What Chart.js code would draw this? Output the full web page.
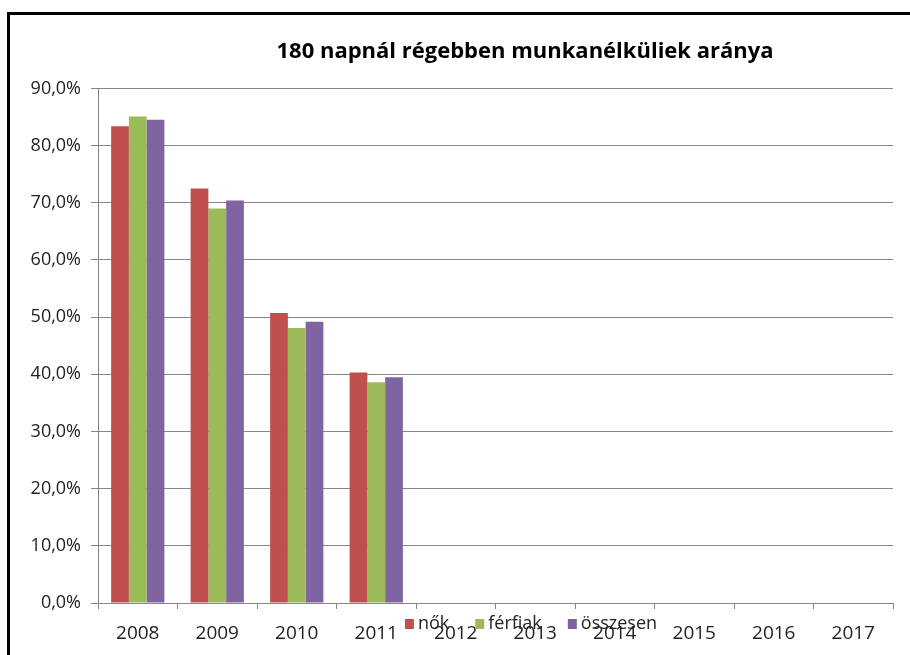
<!DOCTYPE html>
<html>
<head>
<meta charset="utf-8">
<script src="https://cdn.jsdelivr.net/npm/chart.js@4.4.0/dist/chart.umd.min.js"></script>
<style>
  html, body { margin: 0; padding: 0; background: #fff; overflow: hidden; width: 910px; height: 655px; }
  #frame { position: absolute; left: 7px; top: 12px; width: 920px; height: 660px; border-left: 3px solid #000; border-top: 3px solid #000; }
  #chart { position: absolute; left: 0; top: 0; }
</style>
</head>
<body>
<div id="frame"></div>
<canvas id="chart" width="1050" height="655"></canvas>
<script>
// adatok
const years = ['2008', '2009', '2010', '2011', '2012', '2013', '2014', '2015', '2016', '2017'];
const nok = [83.4, 72.5, 50.7, 40.3, null, null, null, null, null, null];
const ferfiak = [85.1, 69.0, 48.1, 38.6, null, null, null, null, null, null];
const osszesen = [84.5, 70.4, 49.2, 39.5, null, null, null, null, null, null];
const seriesNames = ['nők', 'férfiak', 'összesen'];
const seriesColors = ['#C0504D', '#9BBB59', '#8064A2'];
const yMin = 0;
const yMax = 90;
const yStep = 10;

const FONT = "'Open Sans', sans-serif";

// legenda a tengelyfeliratok fölé rajzolva (mint az eredetin)
const overlayLegend = {
    id: 'overlayLegend',
    afterDraw(chart, args, opts) {
        const ctx = chart.ctx;
        const area = chart.chartArea;
        ctx.save();
        ctx.font = `${opts.fontSize}px ${FONT}`;
        ctx.textBaseline = 'middle';
        const items = chart.data.datasets.map(ds => ({
            label: ds.label,
            color: ds.backgroundColor,
            w: opts.box + opts.gap + ctx.measureText(ds.label).width
        }));
        const total = items.reduce((s, it) => s + it.w, 0) + opts.spacing * (items.length - 1);
        let x = chart.width / 2 + opts.shift - total / 2;
        const y = area.bottom + opts.offsetY;
        items.forEach(it => {
            ctx.fillStyle = it.color;
            ctx.fillRect(x, y - opts.box / 2, opts.box - 1, opts.box);
            ctx.fillStyle = '#222';
            ctx.fillText(it.label, x + opts.box + opts.gap, y);
            x += it.w + opts.spacing;
        });
        ctx.restore();
    }
};

const ctx = document.getElementById('chart').getContext('2d');
new Chart(ctx, {
    type: 'bar',
    data: {
        labels: years,
        datasets: [
            { label: seriesNames[0], data: nok, backgroundColor: seriesColors[0] },
            { label: seriesNames[1], data: ferfiak, backgroundColor: seriesColors[1] },
            { label: seriesNames[2], data: osszesen, backgroundColor: seriesColors[2] }
        ]
    },
    options: {
        responsive: false,
        animation: false,
        devicePixelRatio: 1,
        datasets: {
            bar: { categoryPercentage: 0.67, barPercentage: 1.0, borderWidth: 0 }
        },
        layout: { padding: 0 },
        plugins: {
            legend: { display: false },
            tooltip: { enabled: false },
            title: {
                display: true,
                text: '180 napnál régebben munkanélküliek aránya',
                color: '#000',
                font: { family: FONT, size: 22, weight: 'bold' },
                padding: { top: 39, bottom: 23 }
            },
            overlayLegend: { fontSize: 18, box: 10, gap: 3, spacing: 26, offsetY: 21, shift: 6 }
        },
        scales: {
            x: {
                afterFit(axis) { axis.height = 52; },
                grid: { offset: true, drawOnChartArea: false, tickLength: 6, color: '#868686' },
                border: { color: '#868686' },
                ticks: { font: { family: FONT, size: 19 }, color: '#222', padding: 13 }
            },
            y: {
                min: yMin,
                max: yMax,
                afterFit(axis) { axis.width = 98; },
                grid: { color: '#868686', tickLength: 7 },
                border: { color: '#868686' },
                ticks: {
                    stepSize: yStep,
                    font: { family: FONT, size: 18 },
                    color: '#222',
                    padding: 10,
                    callback: v => v.toFixed(1).replace('.', ',') + '%'
                }
            },
            // üres jobb oldali sáv, hogy a cím a rajzterülettől jobbra tolódjon
            spacer: {
                type: 'linear',
                position: 'right',
                afterFit(axis) { axis.width = 157; },
                grid: { display: false },
                border: { display: false },
                ticks: { display: false }
            }
        }
    },
    plugins: [overlayLegend]
});
</script>
</body>
</html>
